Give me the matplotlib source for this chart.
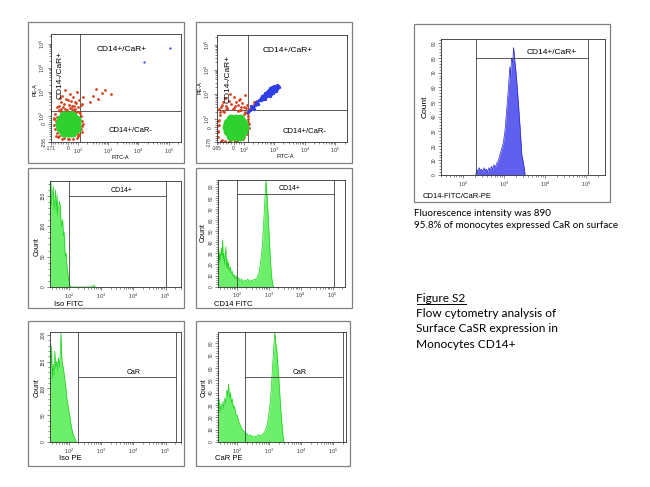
import numpy as np
import matplotlib
matplotlib.use("Agg")
import matplotlib.pyplot as plt
from matplotlib.patches import Rectangle
from matplotlib.lines import Line2D
from matplotlib.ticker import FixedLocator, MultipleLocator, LogLocator, NullFormatter

plt.rcParams['font.family'] = ['Liberation Sans', 'DejaVu Sans']

# ---------------- data ----------------
# dot plots (FITC-A vs PE-A), values in data units
p1_green_x = [-40, 0, 40, -75, -35, 0, 35, 75, -80, -40, 0, 40, 80, -75, -35, 0, 35, 75, -40, 0, 40]
p1_green_y = [-100, -100, -100, -50, -50, -50, -50, -50, 0, 0, 0, 0, 0, 50, 50, 50, 50, 50, 100, 100, 100]
p1_red_x = [-130, -120, -125, -100, -90, -60, -30, 0, 20, 50, 70, 100, 110, 125, 130, 120, -110, 95, -105,
            -140, -135, -115, -80, -45, 10, 60, 85, 115, 135, 140, 105, -95, -70, 35, -15, 80, 130, -140,
            -90, -50, 10, 60, 100, -70, 30, 80, -20, 50, 110, -60, 20, 90, -30, 130, 140,
            -110, -40, 0, 70, 120, -80, 40,
            250, 320, 450, 600, 800, 1200, 400]
p1_red_y = [-60, 40, 120, -160, 170, -190, 200, -200, 220, -190, 190, -150, 150, -60, 40, 100, -110, -120, 90,
            -10, 80, -140, 160, -180, -185, 180, -170, 130, -100, 0, -130, -150, 200, 200, 180, 150, -20, 60,
            260, 240, 300, 270, 230, 380, 420, 350, 520, 600, 480, 700, 850, 1000, 1200, 330, 600,
            240, 320, 450, 400, 280, 550, 260,
            400, 650, 500, 900, 1200, 800, 1300]
p1_blue_x = [15500, 115000]
p1_blue_y = [18000, 63000]

p2_green_x = [-20, 20, 60, -55, -15, 20, 55, 95, -60, -20, 20, 60, 100, -55, -15, 20, 55, 95, -20, 20, 60]
p2_green_y = [-100, -100, -100, -50, -50, -50, -50, -50, 0, 0, 0, 0, 0, 50, 50, 50, 50, 50, 100, 100, 100]
p2_red_x = [-150, -140, -130, -120, -100, -80, -60, -30, 0, 30, 60, 90, 110, 130, 140, 135, -145, -135, 120,
            -155, -150, -110, -90, -45, 15, 75, 105, 140, 150, 125, -125, -70, -10, 45, 100, -160, 150,
            -120, -70, -20, 40, 100, -100, -40, 20, 80, 130, -80, 0, 60, -30, 110,
            -140, -60, 10, 70, 120, -110, 50,
            150, 170, 190, 210, 240, 260, 280, 220, 300]
p2_red_y = [-120, 30, 150, -160, 220, -170, 250, -165, 280, -160, 240, -140, 200, -80, 60, 130, -40, 90, -20,
            -60, 80, -150, 190, -175, -170, 230, -120, 100, -10, 170, 200, 260, 250, 210, 160, 10, 40,
            320, 350, 400, 360, 300, 480, 550, 500, 450, 380, 700, 800, 650, 1000, 900,
            260, 290, 330, 300, 270, 380, 600,
            260, 300, 340, 400, 380, 450, 520, 500, 420]
# CD14+/CaR+ cluster, log10 units
p2_blue_lx = [2.50, 2.55, 2.58, 2.62, 2.65, 2.68, 2.70, 2.72, 2.75, 2.78, 2.80, 2.82, 2.85, 2.88, 2.90, 2.92,
              2.95, 2.98, 3.00, 3.02, 3.05, 3.08, 3.10, 3.12, 2.70, 2.76, 2.84, 2.93, 3.00, 2.87, 2.62, 2.96,
              3.06, 2.15, 2.22, 2.28, 2.32, 2.38, 2.42, 2.45, 2.35, 2.48, 2.25, 2.40,
              2.60, 2.70, 2.80, 2.90, 3.00, 3.05, 2.75, 2.85, 2.95, 3.10, 2.65, 2.55, 2.78, 2.92, 3.02,
              2.68, 2.88, 2.98, 3.08, 2.72, 2.82, 2.94, 3.14, 2.58, 2.86]
p2_blue_ly = [2.75, 2.78, 2.85, 2.86, 2.92, 2.95, 2.90, 3.00, 3.02, 3.05, 3.00, 3.10, 3.12, 3.15, 3.08, 3.18,
              3.20, 3.22, 3.16, 3.26, 3.28, 3.30, 3.25, 3.33, 3.05, 2.95, 3.04, 3.12, 3.28, 3.20, 2.80, 3.30,
              3.20, 2.30, 2.35, 2.45, 2.50, 2.55, 2.60, 2.68, 2.42, 2.62, 2.52, 2.70,
              2.95, 2.82, 3.15, 3.00, 3.35, 3.12, 3.10, 2.95, 3.05, 3.38, 2.98, 2.85, 3.12, 3.28, 3.15,
              2.85, 3.08, 3.12, 3.22, 2.92, 3.18, 3.24, 3.28, 2.76, 3.26]

# histograms: log10 of fluorescence and count
iso_fitc_lx = [1.42, 1.45, 1.47, 1.49, 1.52, 1.54, 1.56, 1.59, 1.61, 1.64, 1.66, 1.68, 1.71, 1.74, 1.76, 1.78,
               1.81, 1.84, 1.86, 1.89, 1.92, 1.94, 1.96, 1.98, 2.00, 2.02, 2.04, 2.06, 2.70, 2.73, 2.76, 2.79, 2.82]
iso_fitc_n = [120, 174, 135, 150, 166, 128, 139, 160, 125, 152, 118, 130, 141, 133, 108, 100,
              111, 84, 90, 50, 56, 38, 29, 20, 12, 6, 2, 0, 0, 2, 1, 3, 0]

cd14_fitc_lx = [1.425, 1.44, 1.46, 1.48, 1.50, 1.52, 1.54, 1.56, 1.58, 1.60, 1.62, 1.64, 1.66, 1.68, 1.70, 1.72,
                1.74, 1.77, 1.80, 1.83, 1.86, 1.89, 1.92, 1.95, 1.98, 2.02, 2.06, 2.10, 2.15, 2.20, 2.25, 2.30,
                2.35, 2.40, 2.45, 2.50, 2.55, 2.60, 2.65, 2.70, 2.74, 2.78, 2.81, 2.84, 2.87, 2.90, 2.92, 2.94,
                2.97, 3.00, 3.03, 3.06, 3.09, 3.12, 3.15]
cd14_fitc_n = [26, 34, 22, 30, 24, 35, 28, 42, 25, 30, 20, 27, 36, 18, 25, 16,
               22, 14, 18, 12, 14, 9, 11, 7, 10, 6, 8, 5, 7, 4, 6, 5,
               7, 4, 6, 5, 7, 6, 9, 13, 20, 30, 40, 55, 72, 88, 96, 86,
               72, 55, 38, 22, 10, 3, 0]

iso_pe_lx = [1.42, 1.45, 1.47, 1.49, 1.52, 1.55, 1.57, 1.60, 1.63, 1.66, 1.68, 1.72, 1.76, 1.79, 1.83, 1.86,
             1.90, 1.94, 1.99, 2.04, 2.09, 2.14, 2.19, 2.24]
iso_pe_n = [110, 139, 179, 120, 145, 125, 170, 139, 151, 132, 157, 140, 204, 151, 139, 126,
            107, 82, 64, 45, 26, 14, 6, 0]

car_pe_lx = [1.425, 1.45, 1.48, 1.51, 1.54, 1.57, 1.60, 1.63, 1.66, 1.69, 1.72, 1.74, 1.77, 1.80, 1.83, 1.86,
             1.89, 1.93, 1.97, 2.01, 2.05, 2.10, 2.15, 2.20, 2.25, 2.30, 2.36, 2.42, 2.48, 2.54, 2.60, 2.66,
             2.72, 2.78, 2.83, 2.88, 2.94, 2.99, 3.04, 3.08, 3.12, 3.15, 3.18, 3.21, 3.24, 3.28, 3.32, 3.36,
             3.40, 3.43, 3.46]
car_pe_n = [30, 35, 24, 31, 26, 33, 27, 36, 31, 42, 38, 47, 36, 40, 32, 35,
            28, 29, 22, 22, 17, 14, 11, 9, 8, 7, 5, 6, 4, 5, 4, 6,
            5, 6, 7, 9, 14, 22, 33, 48, 66, 78, 89, 80, 75, 60, 45, 28,
            15, 6, 0]

gated_lx = [2.32, 2.34, 2.37, 2.40, 2.43, 2.46, 2.49, 2.52, 2.55, 2.58, 2.61, 2.64, 2.67, 2.70, 2.73, 2.76,
            2.79, 2.83, 2.87, 2.91, 2.95, 2.99, 3.03, 3.07, 3.11, 3.15, 3.17, 3.19, 3.22, 3.24, 3.25, 3.27,
            3.30, 3.35, 3.40, 3.44, 3.50, 3.52]
gated_n = [0, 4, 2, 5, 3, 4, 2, 5, 3, 4, 2, 5, 3, 6, 4, 7,
           5, 8, 10, 14, 18, 22, 30, 44, 58, 74, 68, 80, 77, 87, 84, 78,
           70, 52, 32, 14, 5, 0]

decade_labels = ['$10^2$', '$10^3$', '$10^4$', '$10^5$']

# ---------------- layout helpers (pixel boxes) ----------------
W, H = 650, 487
fig = plt.figure(figsize=(6.5, 4.87), dpi=100)
fig.patch.set_facecolor('white')


def ax_at(x0, y0, x1, y1):
    return fig.add_axes([x0 / W, 1 - y1 / H, (x1 - x0) / W, (y1 - y0) / H])


def frame(x0, y0, x1, y1):
    fig.add_artist(Rectangle((x0 / W, 1 - y1 / H), (x1 - x0) / W, (y1 - y0) / H,
                             transform=fig.transFigure, fill=False, ec='#808080', lw=0.9))


def ftext(x, y, s, **kw):
    return fig.text(x / W, 1 - y / H, s, **kw)


def style(ax):
    for sp in ax.spines.values():
        sp.set_linewidth(0.6)
        sp.set_color('#303030')
    ax.tick_params(which='both', direction='out', width=0.4, labelsize=3.5, pad=1, colors='#303030')
    ax.tick_params(which='major', length=2.2)
    ax.tick_params(which='minor', length=1.2)
    for lab in ax.get_yticklabels():
        lab.set_rotation(90)
        lab.set_va('center')


GATE = '#404040'


def dot_panel(box, xmin, ymin, xtop, ytop, gx, gy, texts):
    ax = ax_at(*box)
    ax.set_xscale('symlog', linthresh=100, linscale=0.3)
    ax.set_yscale('symlog', linthresh=100, linscale=0.3)
    ax.set_xlim(xmin, xtop)
    ax.set_ylim(ymin, ytop)
    minors = list(range(-150, 100, 25)) + [m * 10 ** d for d in range(2, 6) for m in range(2, 10)]
    ax.set_xticks([xmin, 0, 1e2, 1e3, 1e4, 1e5], labels=[str(xmin), '0'] + decade_labels)
    ax.set_yticks([ymin, 0, 1e2, 1e3, 1e4, 1e5], labels=[str(ymin), '0'] + decade_labels)
    ax.xaxis.set_minor_locator(FixedLocator(minors))
    ax.yaxis.set_minor_locator(FixedLocator(minors + [-200, -250]))
    ax.xaxis.set_minor_formatter(NullFormatter())
    ax.yaxis.set_minor_formatter(NullFormatter())
    ax.axvline(gx, color=GATE, lw=0.6)
    ax.axhline(gy, color=GATE, lw=0.6)
    (ux, uy), (vx, vy), (lx, ly) = texts
    ax.text(ux, uy, 'CD14+/CaR+', transform=ax.transAxes, ha='center', va='center', fontsize=6)
    ax.text(vx, vy, 'CD14-/CaR+', transform=ax.transAxes, ha='center', va='center', fontsize=6, rotation=90)
    ax.text(lx, ly, 'CD14+/CaR-', transform=ax.transAxes, ha='center', va='center', fontsize=5.5)
    style(ax)
    return ax


def hist_panel(box, lx, n, xlim, ymax, ystep, yminor, gate, glabel, glx, fill, edge):
    ax = ax_at(*box)
    x = 10 ** np.array(lx)
    ax.fill_between(x, n, color=fill, lw=0)
    ax.plot(x, n, color=edge, lw=0.5)
    ax.set_xscale('log')
    ax.set_xlim(10 ** xlim[0], 10 ** xlim[1])
    ax.set_ylim(0, ymax)
    ax.set_xticks([1e2, 1e3, 1e4, 1e5], labels=decade_labels)
    ax.xaxis.set_minor_locator(LogLocator(base=10, subs=np.arange(2, 10)))
    ax.xaxis.set_minor_formatter(NullFormatter())
    ax.set_yticks(np.arange(0, ymax, ystep))
    ax.yaxis.set_minor_locator(MultipleLocator(yminor))
    g0, g1, gh = gate
    ax.axvline(10 ** g0, color=GATE, lw=0.6)
    ax.axvline(10 ** g1, color=GATE, lw=0.6)
    ax.plot([10 ** g0, 10 ** g1], [gh, gh], color=GATE, lw=0.6)
    ax.annotate(glabel, (10 ** glx, gh), xytext=(0, 1.2), textcoords='offset points',
                ha='center', va='bottom', fontsize=5)
    style(ax)
    return ax


GREEN_FILL, GREEN_EDGE = '#6cf06c', '#19d419'

# ---- dot plots ----
frame(27.7, 21.7, 184, 162.7)
a1 = dot_panel((51, 34, 180.7, 142), -171, -256, 10 ** 5.4, 10 ** 5.4, 112, 160,
               [(0.547, 0.852), (0.069, 0.62), (0.61, 0.111)])
a1.scatter(p1_red_x, p1_red_y, s=4, color='#d6401e', lw=0, zorder=2)
a1.scatter(p1_green_x, p1_green_y, s=55, color='#2fd12f', lw=0, zorder=3)
a1.scatter(p1_blue_x, p1_blue_y, s=2.5, color='#3040e0', lw=0, zorder=2)
ftext(35, 90, 'PE-A', rotation=90, ha='center', va='center', fontsize=4)
ftext(120, 157, 'FITC-A', ha='center', va='center', fontsize=4)

frame(195.7, 21.7, 352, 162.7)
a2 = dot_panel((216.7, 35, 346.7, 141.7), -165, -178, 10 ** 5.37, 10 ** 5.4, 141, 229,
               [(0.548, 0.859), (0.087, 0.588), (0.679, 0.10)])
a2.scatter(p2_red_x, p2_red_y, s=4, color='#d6401e', lw=0, zorder=2)
a2.scatter(p2_green_x, p2_green_y, s=50, color='#2fd12f', lw=0, zorder=3)
a2.scatter(10 ** np.array(p2_blue_lx), 10 ** np.array(p2_blue_ly), s=6, color='#2f3fe6', lw=0, zorder=2)
ftext(200, 88, 'PE-A', rotation=90, ha='center', va='center', fontsize=4)
ftext(285, 156, 'FITC-A', ha='center', va='center', fontsize=4)

# ---- histograms ----
frame(27.7, 168, 184, 308)
hist_panel((50, 180.7, 181, 287), iso_fitc_lx, iso_fitc_n, (1.42, 5.48), 175, 50, 10,
           (2.02, 5.03, 150), 'CD14+', 3.64, GREEN_FILL, GREEN_EDGE)
ftext(36.7, 246.7, 'Count', rotation=90, ha='center', va='center', fontsize=5)
ftext(54, 304, 'Iso FITC', ha='left', va='center', fontsize=5.5)

frame(195.7, 168, 352, 308)
hist_panel((218.3, 180, 345, 286.7), cd14_fitc_lx, cd14_fitc_n, (1.425, 5.39), 96, 10, 2,
           (2.0, 5.06, 83.5), 'CD14+', 3.64, GREEN_FILL, GREEN_EDGE)
ftext(203, 233, 'Count', rotation=90, ha='center', va='center', fontsize=5)
ftext(214, 304, 'CD14 FITC', ha='left', va='center', fontsize=5.5)

frame(27.7, 321, 184, 465.7)
hist_panel((50, 332.3, 181, 442), iso_pe_lx, iso_pe_n, (1.42, 5.48), 205, 50, 10,
           (2.30, 5.33, 121), 'CaR', 4.02, GREEN_FILL, GREEN_EDGE)
ftext(36.7, 388, 'Count', rotation=90, ha='center', va='center', fontsize=5)
ftext(59, 459, 'Iso PE', ha='left', va='center', fontsize=5.5)

frame(195.7, 321, 350, 465.7)
hist_panel((218.3, 332.3, 346, 442), car_pe_lx, car_pe_n, (1.425, 5.39), 89, 10, 2,
           (2.26, 5.29, 52.4), 'CaR', 3.95, GREEN_FILL, GREEN_EDGE)
ftext(204, 388, 'Count', rotation=90, ha='center', va='center', fontsize=5)
ftext(215, 459, 'CaR PE', ha='left', va='center', fontsize=5.5)

# ---- gated histogram (right) ----
frame(414, 24, 610, 202)
ar = hist_panel((441, 39, 605, 175), gated_lx, gated_n, (1.47, 5.47), 93, 10, 2,
                (2.32, 5.05, 80), 'CD14+/CaR+', 4.18, '#6060f0', '#2a2ad6')
ar.texts[-1].set_fontsize(6)
ftext(425, 107, 'Count', rotation=90, ha='center', va='center', fontsize=6)
ftext(423, 196, 'CD14-FITC/CaR-PE', ha='left', va='center', fontsize=5.5)

# ---- captions ----
ftext(414, 213, 'Fluorescence intensity was 890', family='Lato', fontsize=7.1, va='center')
ftext(414, 226, '95.8% of monocytes expressed CaR on surface', family='Lato', fontsize=7.1, va='center')

t = ftext(416.5, 298, 'Figure S2', family='Lato', fontsize=8.6, va='center')
ftext(416.5, 313.5, 'Flow cytometry analysis of', family='Lato', fontsize=8.6, va='center')
ftext(416.5, 329, 'Surface CaSR expression in', family='Lato', fontsize=8.6, va='center')
ftext(416.5, 344.5, 'Monocytes CD14+', family='Lato', fontsize=8.6, va='center')
fig.canvas.draw()
bb = t.get_window_extent()
fig.add_artist(Line2D([bb.x0 / W, bb.x1 / W], [1 - 303.5 / H, 1 - 303.5 / H],
                      transform=fig.transFigure, color='black', lw=0.7))

fig.savefig('out.png', dpi=100)
